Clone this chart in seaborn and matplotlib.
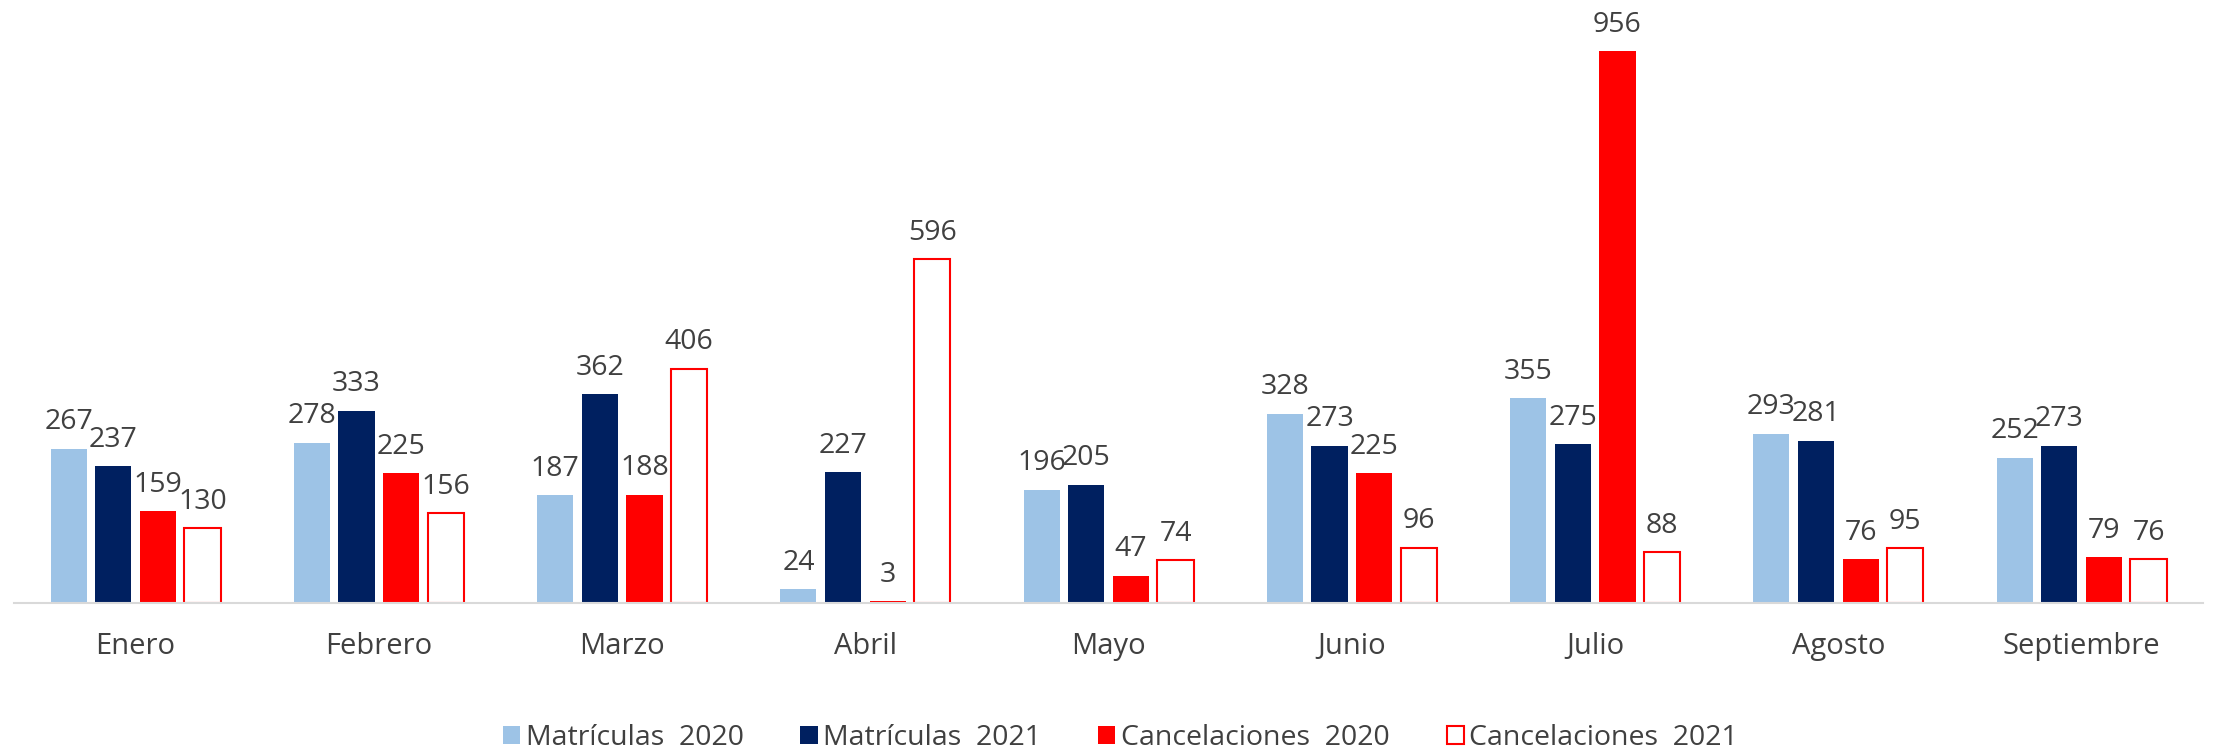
import pandas as pd
import matplotlib
matplotlib.use('Agg')
import matplotlib.pyplot as plt
import seaborn as sns

# values
meses = ['Enero', 'Febrero', 'Marzo', 'Abril', 'Mayo', 'Junio', 'Julio', 'Agosto', 'Septiembre']
series = ['Matrículas  2020', 'Matrículas  2021', 'Cancelaciones  2020', 'Cancelaciones  2021']
matriculas_2020 = [267, 278, 187, 24, 196, 328, 355, 293, 252]
matriculas_2021 = [237, 333, 362, 227, 205, 273, 275, 281, 273]
cancelaciones_2020 = [159, 225, 188, 3, 47, 225, 956, 76, 79]
cancelaciones_2021 = [130, 156, 406, 596, 74, 96, 88, 95, 76]

colors = ['#9DC3E6', '#002060', '#FF0000', '#FFFFFF']

# long form table for seaborn
rows = []
for s, vals in zip(series, [matriculas_2020, matriculas_2021, cancelaciones_2020, cancelaciones_2021]):
    for m, v in zip(meses, vals):
        rows.append({'mes': m, 'valor': v, 'serie': s})
df = pd.DataFrame(rows)

sns.set_style('white')
plt.rcParams['font.family'] = ['Open Sans', 'DejaVu Sans']

fig = plt.figure(figsize=(22.21, 7.51), dpi=100)
ax = fig.add_axes([0.0063, 0.197, 0.9857, 0.803])

sns.barplot(data=df, x='mes', y='valor', hue='serie', order=meses, hue_order=series,
            palette=colors, saturation=1, width=0.734, gap=0.19, linewidth=0,
            legend=False, ax=ax)

# hollow bars for Cancelaciones 2021
for p in ax.containers[3].patches:
    p.set_facecolor('white')
    p.set_edgecolor('#FF0000')
    p.set_linewidth(1.5)

# value labels
for c in ax.containers:
    ax.bar_label(c, padding=9, fontsize=20.5, color='#404040')

ax.set_xlim(-0.5, 8.5)
ax.set_ylim(0, 1045)
ax.set_xlabel('')
ax.set_ylabel('')
ax.set_yticks([])
ax.tick_params(axis='x', length=0, pad=21, labelsize=21, labelcolor='#404040')
for side in ['left', 'right', 'top']:
    ax.spines[side].set_visible(False)
ax.spines['bottom'].set_color('#D9D9D9')
ax.spines['bottom'].set_linewidth(1.5)

# legend at the bottom
handles = [c.patches[0] for c in ax.containers]
fig.legend(handles, series, loc='lower center', bbox_to_anchor=(0.5045, -0.035), ncol=4,
           frameon=False, fontsize=20.5, labelcolor='#404040',
           handlelength=0.6, handleheight=0.6, handletextpad=0.2, columnspacing=2.0)

fig.savefig('out.png', dpi=100)
